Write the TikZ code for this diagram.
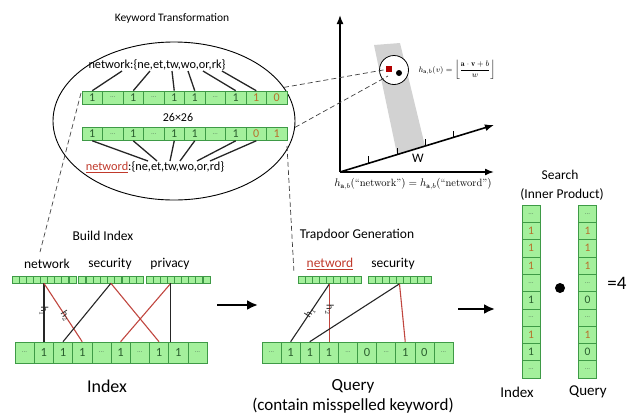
\documentclass[tikz,border=0pt]{standalone}
\usepackage{fontspec}
\usepackage{amsmath}
\usetikzlibrary{arrows.meta,calc,shapes.geometric}
\newfontfamily\calfont{Carlito}
\definecolor{cellfill}{HTML}{A4F09C}
\definecolor{celldraw}{HTML}{3E9A46}
\definecolor{digitgreen}{HTML}{2A5E2E}
\definecolor{digitorange}{HTML}{B8702A}
\definecolor{linkred}{HTML}{C0463F}
\definecolor{wordred}{HTML}{C0392B}
\newcommand{\cf}[1]{\calfont\fontsize{#1}{#1}\selectfont}
\newcommand{\celldots}{{\fontsize{7}{7}\selectfont\color{digitgreen!75}...}}
\newcommand{\oo}[1]{\textcolor{digitorange}{#1}}

\begin{document}
\begin{tikzpicture}[x=1pt,y=-1pt,
  cellbase/.style={draw=celldraw, fill=cellfill, line width=0.6pt, inner sep=0pt, text=digitgreen},
  rowcell/.style={cellbase, minimum width=20.5pt, minimum height=13pt, font=\cf{12}},
  idxcell/.style={cellbase, minimum width=19.2pt, minimum height=21pt, font=\cf{12.5}},
  colcell/.style={cellbase, minimum width=18pt, minimum height=17.3pt, font=\cf{11.5}},
  stripcell/.style={cellbase, minimum width=7pt, minimum height=7pt},
  label/.style={font=\cf{13.5}, inner sep=0pt},
  biglabel/.style={font=\cf{17}, inner sep=0pt},
  bigram/.style={line width=1.3pt, black!85},
  blackhash/.style={line width=1.1pt, black!85},
  redhash/.style={line width=1.1pt, linkred},
  guide/.style={line width=0.7pt, black!75, dash pattern=on 5pt off 3pt},
  axis/.style={line width=1.6pt, -{Latex[length=9pt,width=7pt]}},
  bigarrow/.style={line width=2.4pt, -{Latex[length=11pt,width=10pt]}},
  hlabel/.style={font=\cf{10.5}, sloped, inner sep=0pt, text=black!85},
]
\useasboundingbox (0,0) rectangle (632,416);

% ---------------- keyword transformation ----------------
\node[font=\cf{11.5}] (kttitle) at (172,18) {Keyword Transformation};
\node[draw, line width=0.9pt, ellipse, minimum width=242pt, minimum height=158pt, inner sep=0pt] (kt) at (174,121) {};

\node[font=\cf{12.3}, inner sep=0pt] (topword) at (157,65) {network:\{ne,et,tw,wo,or,rk\}};
\foreach \v [count=\i] in {1,\celldots,1,\celldots,1,1,\celldots,1,\oo{1},\oo{0}}
  \node[rowcell] (t\i) at ({82+20.5*(\i-0.5)},97.5) {\v};
\node[font=\cf{12}] (dim) at (178,117) {26×26};
\foreach \v [count=\i] in {1,\celldots,1,\celldots,1,1,\celldots,1,\oo{0},\oo{1}}
  \node[rowcell] (b\i) at ({82+20.5*(\i-0.5)},134) {\v};
\node[font=\cf{12.3}, inner sep=0pt] (botword) at (155,167) {\textcolor{wordred}{\underline{netword}}:\{ne,et,tw,wo,or,rd\}};

% bigram links
\foreach \x [count=\k] in {122,150,172,188,203,222}
  \coordinate (gt\k) at (\x,71);
\foreach \x [count=\k] in {148,157,170,180,197,210}
  \coordinate (gb\k) at (\x,161);
\foreach \k/\c in {1/1,2/3,3/5,4/6,5/8,6/9}{
  \draw[bigram] (gt\k) -- (t\c.north);
  \draw[bigram] (b\c.south) -- (gb\k);
}

% ---------------- LSH plot ----------------
\coordinate (O) at (340,172);
\coordinate (yend) at (340,15);
\coordinate (xend) at (494,172);
\coordinate (wend) at (494,125);
\fill[gray!35] (374,45) -- (400,43) -- (425,146) -- (397,154) -- cycle;
\draw[axis] (O) -- (yend);
\draw[axis] (O) -- (xend);
\draw[axis] (O) -- (wend);
\foreach \f [count=\k] in {0.182,0.37,0.552,0.734}{
  \coordinate (tick\k) at ($(O)!\f!(wend)$);
  \draw[line width=0.8pt] (tick\k) -- ++(0,-7);
}
\node[font=\cf{13}] (wlab) at (418,158) {W};

\node[draw, line width=0.8pt, circle, fill=white, minimum size=29pt, inner sep=0pt] (zoomc) at (394,70) {};
\coordinate (rdot) at (389,69);
\draw[guide] (kt.17) -- (rdot);
\draw[guide] (kt.-3) -- (388,76);
\node[fill=red!70!black, minimum size=6pt, inner sep=0pt] (redsq) at (rdot) {};
\node[circle, fill=black, minimum size=6pt, inner sep=0pt] (blackdot) at (399,73) {};

\node[font=\fontsize{8}{9}\selectfont] (hdef) at (457,70)
  {$h_{\mathbf{a},b}(v)=\left\lfloor\dfrac{\mathbf{a}\cdot\mathbf{v}+b}{w}\right\rfloor$};
\node[font=\fontsize{10.5}{12}\selectfont] (heq) at (413,184)
  {$h_{\mathbf{a},b}(\text{``network''})=h_{\mathbf{a},b}(\text{``netword''})$};

% guides down to the two stages
\coordinate (gl1) at (81,93);
\coordinate (gl2) at (40,252);
\coordinate (gr1) at (287,146);
\coordinate (gr2) at (294,273);
\draw[guide] (gl1) -- (gl2);
\draw[guide] (gr1) -- (gr2);

% ---------------- build index ----------------
\node[label] (bititle) at (103,236) {Build Index};
\node[label] (wnet) at (47,264) {network};
\node[label] (wsec) at (110,264) {security};
\node[label] (wpriv) at (170,264) {privacy};
\foreach \i in {1,...,9}{
  \node[stripcell] (sa\i) at ({12+7.1*(\i-0.5)},279.5) {};
  \node[stripcell] (sb\i) at ({78.5+7.2*(\i-0.5)},279.5) {};
  \node[stripcell] (sc\i) at ({146+7.1*(\i-0.5)},279.5) {};
}
\foreach \v [count=\i] in {\celldots,1,1,1,\celldots,1,\celldots,1,1,\celldots}
  \node[idxcell] (i\i) at ({15+19.2*(\i-0.5)},352.5) {\v};

\draw[blackhash] (sa5.south) -- node[hlabel, pos=0.48] {h$_1$} (sa5.south |- i2.north);
\draw[redhash] (sa5.south) -- node[hlabel, pos=0.56] {h$_2$} (i4.north);
\draw[blackhash] (sb5.south) -- (i3.north);
\draw[redhash] (sb5.south) -- (i8.north);
\draw[redhash] (sc4.south) -- (i6.north);
\draw[blackhash] (sc4.south) -- (sc4.south |- i9.north);
\node[biglabel, font=\cf{18}] (idxlab) at (107,386) {Index};

\coordinate (a1s) at (217,305);
\coordinate (a1e) at (258,305);
\draw[bigarrow] (a1s) -- (a1e);

% ---------------- trapdoor generation ----------------
\node[label] (tdtitle) at (357,235) {Trapdoor Generation};
\node[label] (qnet) at (330,264) {\textcolor{wordred}{\underline{netword}}};
\node[label] (qsec) at (393,264) {security};
\foreach \i in {1,...,9}{
  \node[stripcell] (qa\i) at ({298+7*(\i-0.5)},280) {};
  \node[stripcell] (qb\i) at ({368+7*(\i-0.5)},280) {};
}
\foreach \v [count=\i] in {\celldots,1,1,1,\celldots,0,\celldots,1,0,\celldots}
  \node[idxcell, minimum width=19.1pt] (q\i) at ({262+19.1*(\i-0.5)},352.5) {\v};

\draw[blackhash] (qa5.south) -- node[hlabel, pos=0.5] {h$_1$} (q2.north);
\draw[redhash] (qa5.south) -- node[hlabel, pos=0.45] {h$_2$} (qa5.south |- q4.north);
\draw[blackhash] (qb5.south) -- (q3.north);
\draw[redhash] (qb5.south) -- (q8.north);
\node[biglabel] (qlab) at (353,386) {Query};
\node[biglabel] (qnote) at (353,406) {(contain misspelled keyword)};

\coordinate (a2s) at (458,309);
\coordinate (a2e) at (495,309);
\draw[bigarrow] (a2s) -- (a2e);

% ---------------- search ----------------
\node[label] (stitle) at (560,175) {Search};
\node[label] (ssub) at (562,194) {(Inner Product)};
\foreach \v [count=\i] in {\celldots,\oo{1},\oo{1},\oo{1},\celldots,1,\celldots,\oo{1},1,\celldots}
  \node[colcell] (ic\i) at (531,{205+17.3*(\i-0.5)}) {\v};
\foreach \v [count=\i] in {\celldots,\oo{1},\oo{1},\oo{1},\celldots,0,\celldots,\oo{1},0,\celldots}
  \node[colcell] (qc\i) at (587.5,{205+17.3*(\i-0.5)}) {\v};
\node[circle, fill=black, minimum size=10pt, inner sep=0pt] (dotp) at (560,288) {};
\node[font=\cf{19}, inner sep=0pt] (result) at (617,283) {=4};
\node[font=\cf{15}, inner sep=0pt] (iclab) at (517,392) {Index};
\node[font=\cf{15}, inner sep=0pt] (qclab) at (588,392) {Query};
\end{tikzpicture}
\end{document}
